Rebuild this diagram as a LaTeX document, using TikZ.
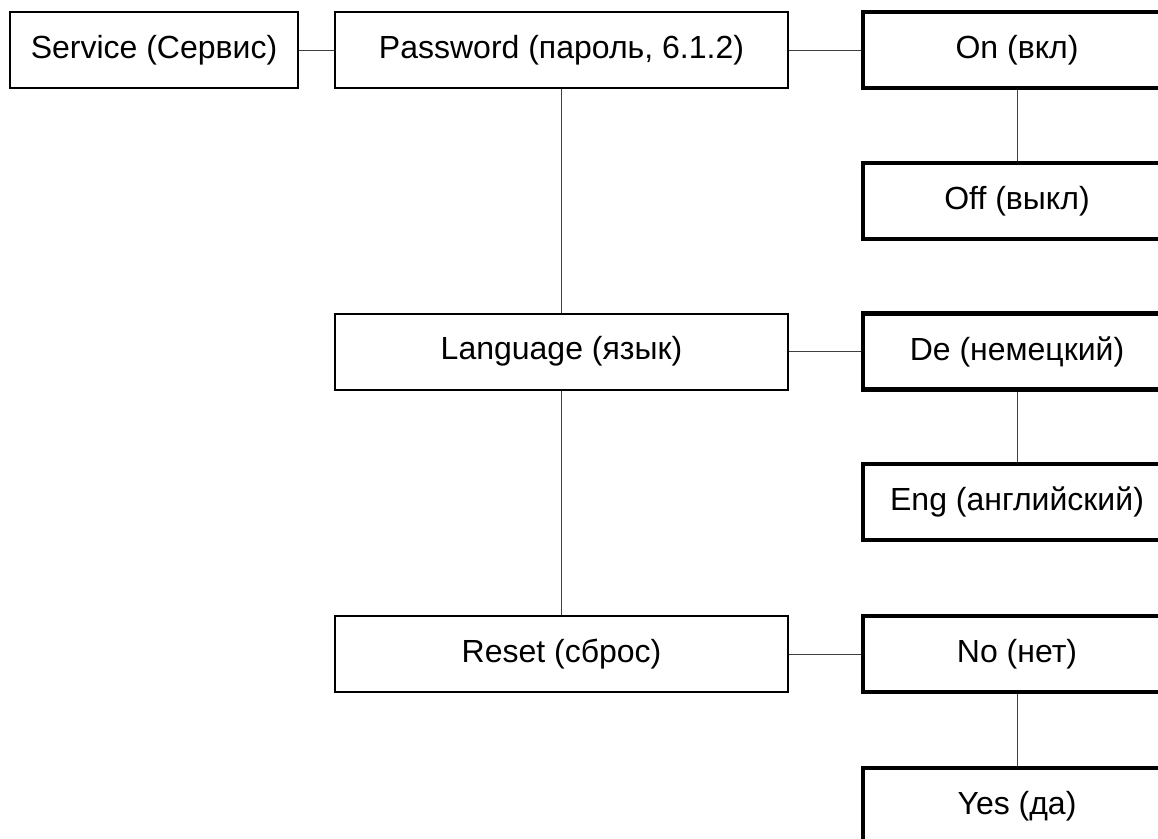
\documentclass[tikz,border=0pt]{standalone}
\usepackage{fontspec}
\setmainfont{Liberation Sans}
\begin{document}
\begin{tikzpicture}[x=1pt,y=-1pt,
  box/.style={draw=black, line width=2pt, fill=white, minimum height=76pt, inner sep=0pt, font=\fontsize{32}{38}\selectfont, anchor=center},
  thickbox/.style={box, line width=4.5pt, minimum width=308pt},
  midbox/.style={box, minimum width=453pt},
  conn/.style={draw=black!75, line width=1pt}]
\clip (0,0) rectangle (1158,838);
\fill[white] (0,0) rectangle (1158,838);
\node[box, minimum width=288pt] (service) at (154,50) {Service (Сервис)};
\node[midbox] (password) at (561.5,50) {Password (пароль, 6.1.2)};
\node[midbox] (language) at (561.5,351.5) {Language (язык)};
\node[midbox] (reset) at (561.5,654) {Reset (сброс)};
\node[thickbox] (on) at (1017,50) {On (вкл)};
\node[thickbox] (off) at (1017,201) {Off (выкл)};
\node[thickbox] (de) at (1017,351.5) {De (немецкий)};
\node[thickbox] (eng) at (1017,502) {Eng (английский)};
\node[thickbox] (no) at (1017,654) {No (нет)};
\node[thickbox] (yes) at (1017,806) {Yes (да)};
\draw[conn] (service.east) -- (password.west);
\draw[conn] (password.east) -- (on.west);
\draw[conn] (password.south) -- (language.north);
\draw[conn] (language.south) -- (reset.north);
\draw[conn] (language.east) -- (de.west);
\draw[conn] (reset.east) -- (no.west);
\draw[conn] (on.south) -- (off.north);
\draw[conn] (de.south) -- (eng.north);
\draw[conn] (no.south) -- (yes.north);
\end{tikzpicture}
\end{document}
